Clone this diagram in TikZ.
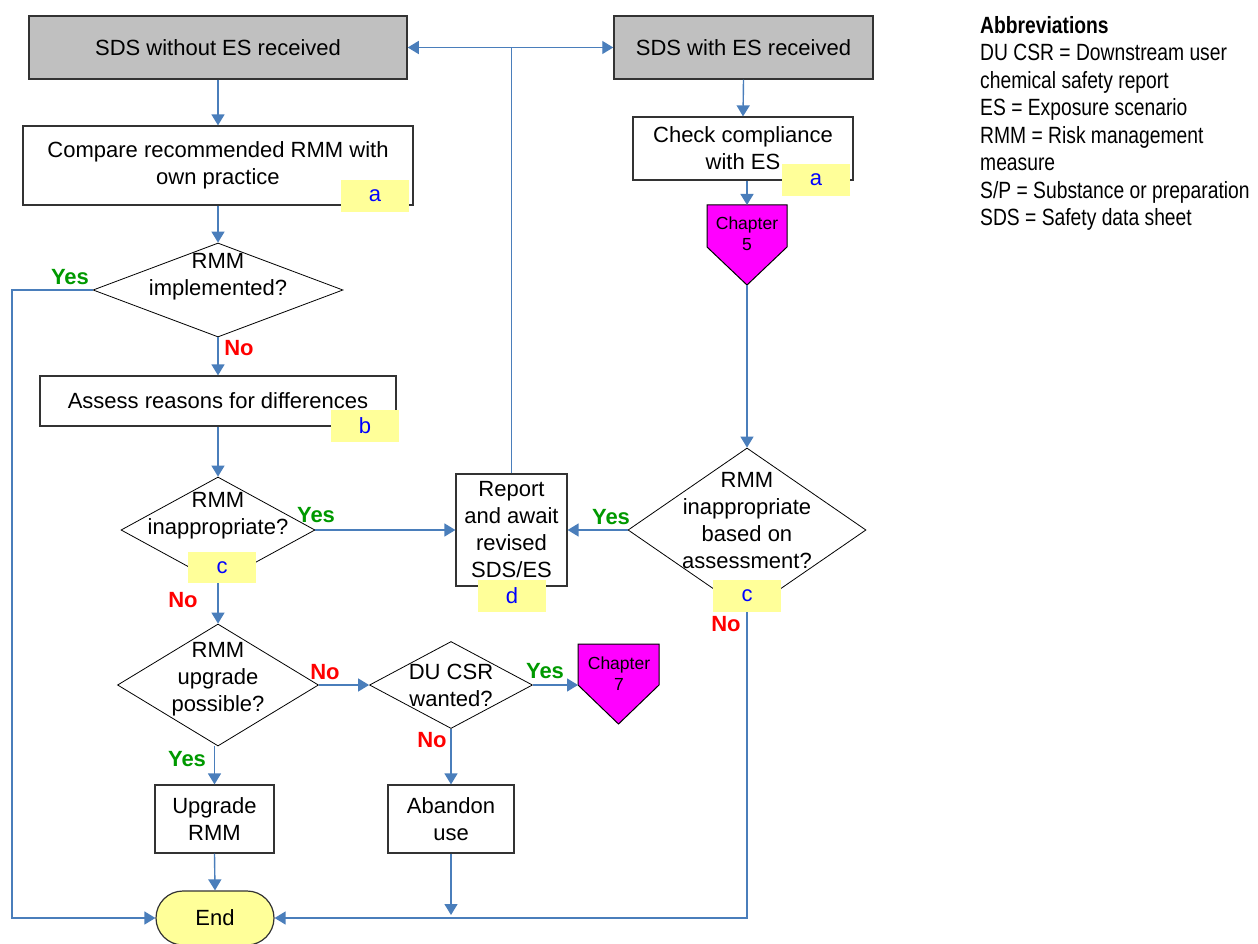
\documentclass[tikz,border=0pt]{standalone}
\usepackage{fontspec}
\setmainfont{Liberation Sans}
\newfontfamily\narrowfont[FakeStretch=0.82]{Liberation Sans}
\usetikzlibrary{arrows.meta,shapes.geometric}

\definecolor{flowblue}{RGB}{74,126,187}
\definecolor{boxgray}{RGB}{192,192,192}
\definecolor{notefill}{RGB}{255,255,153}
\definecolor{yesgreen}{RGB}{0,153,0}
\definecolor{chapmag}{RGB}{255,0,255}

\tikzset{
  txt/.style={font=\fontsize{22}{27}\selectfont, align=center},
  proc/.style={txt, rectangle, draw=black!80, line width=1.2pt, inner sep=0pt},
  start/.style={proc, fill=boxgray, line width=1.5pt},
  decision/.style={diamond, draw=black, line width=0.8pt, inner sep=0pt},
  note/.style={rectangle, fill=notefill, minimum width=68pt, minimum height=32pt,
    inner sep=0pt, font=\fontsize{22}{27}\selectfont, text=blue},
  yes/.style={font=\bfseries\fontsize{22}{27}\selectfont, text=yesgreen, inner sep=0pt},
  no/.style={font=\bfseries\fontsize{22}{27}\selectfont, text=red, inner sep=0pt},
  flow/.style={draw=flowblue, line width=1.4pt},
  arrow/.style={flow, -{Triangle[length=11pt,width=13pt]}},
  chapter/.style={fill=chapmag, draw=black, line width=1pt},
  chaptxt/.style={font=\fontsize{17.5}{21}\selectfont, align=center, inner sep=0pt},
}

\begin{document}
\begin{tikzpicture}[x=1pt,y=-1pt]
\useasboundingbox (0,0) rectangle (1258,944);

% start boxes
\node[start, minimum width=378, minimum height=63] (sdsno) at (218,47.5) {SDS without ES received};
\node[start, minimum width=259, minimum height=63] (sdsyes) at (743.5,47.5) {SDS with ES received};

% left column
\node[proc, minimum width=390, minimum height=79] (compare) at (218,165.5) {Compare recommended RMM with\\own practice};
\node[decision, minimum width=250, minimum height=94,
  label={[txt, yshift=13pt]center:{RMM\\implemented?}}] (implq) at (218,290) {};
\node[proc, minimum width=356, minimum height=50] (assess) at (218,401) {Assess reasons for differences};
\node[decision, minimum width=194, minimum height=106,
  label={[txt, yshift=14pt]center:{RMM\\inappropriate?}}] (inapq) at (218,530) {};
\node[decision, minimum width=201, minimum height=122,
  label={[txt, yshift=6pt]center:{RMM\\upgrade\\possible?}}] (upgq) at (218,685) {};
\node[proc, minimum width=119, minimum height=68] (upgrade) at (214.5,819) {Upgrade\\RMM};
\node[txt, rectangle, draw=black!80, line width=1.2pt, fill=notefill, rounded corners=27pt,
  minimum width=118, minimum height=54, inner sep=0pt] (endnode) at (215,918) {End};

% middle
\node[proc, minimum width=111, minimum height=112] (report) at (511.5,530) {Report\\and await\\revised\\SDS/ES};
\node[decision, minimum width=163, minimum height=87,
  label={[txt]center:{DU CSR\\wanted?}}] (csrq) at (451,685) {};
\node[proc, minimum width=126, minimum height=68] (abandon) at (451,819) {Abandon\\use};

% right column
\node[proc, minimum width=220, minimum height=63] (check) at (743,148.5) {Check compliance\\with ES};
\node[decision, minimum width=238, minimum height=164,
  label={[txt, yshift=9pt]center:{RMM\\inappropriate\\based on\\assessment?}}] (basedq) at (747,530) {};

% chapter marks
\draw[chapter] (707,205) -- (787,205) -- (787,247) -- (747,285) -- (707,247) -- cycle;
\coordinate (ch5top) at (747,205);
\coordinate (ch5tip) at (747,285);
\node[chaptxt] (ch5) at (747,234) {Chapter\\5};
\draw[chapter] (578,644) -- (659,644) -- (659,685) -- (618.5,724) -- (578,685) -- cycle;
\coordinate (ch7in) at (578,685);
\node[chaptxt] (ch7) at (619,674) {Chapter\\7};

% connectors
\coordinate (split) at (report.north |- sdsno.east);
\draw[flow] (report.north) -- (split);
\draw[arrow] (split) -- (sdsno.east);
\draw[arrow] (split) -- (sdsyes.west);
\draw[arrow] (sdsno.south) -- (compare.north);
\draw[arrow] (compare.south) -- (implq.north);
\draw[arrow] (implq.south) -- (assess.north);
\draw[arrow] (assess.south) -- (inapq.north);
\draw[arrow] (inapq.east) -- (report.west);
\draw[arrow] (inapq.south) -- (upgq.north);
\draw[arrow] (upgq.east) -- (csrq.west);
\draw[arrow] (csrq.east) -- (ch7in);
\draw[arrow] (csrq.south) -- (abandon.north);
\draw[arrow] (upgrade.north |- upgq.south) -- (upgrade.north);
\draw[arrow] (upgrade.south) -- (endnode.north);
\coordinate (abandonend) at (451,915);
\draw[arrow] (abandon.south) -- (abandonend);
\coordinate (railtop) at (12,290);
\draw[arrow] (implq.west) -- (railtop) |- (endnode.west);
\draw[arrow] (sdsyes.south) -- (check.north);
\draw[arrow] (ch5top |- check.south) -- (ch5top);
\draw[arrow] (ch5tip) -- (basedq.north);
\draw[arrow] (basedq.west) -- (report.east);
\draw[arrow] (basedq.south) |- (endnode.east);

% yellow notes
\node[note] (notea1) at (375,196) {a};
\node[note] (noteb) at (365,426) {b};
\node[note, minimum height=31] (notec1) at (222,567.5) {c};
\node[note] (noted) at (512,596) {d};
\node[note] (notea2) at (816,180) {a};
\node[note] (notec2) at (747,596) {c};

% yes / no
\node[yes] (yes1) at (70,277) {Yes};
\node[no] (no1) at (239,348) {No};
\node[yes] (yes2) at (316,515) {Yes};
\node[no] (no2) at (183,600) {No};
\node[no] (no3) at (325,672) {No};
\node[yes] (yes3) at (187,759) {Yes};
\node[yes] (yes4) at (545,671) {Yes};
\node[no] (no4) at (432,740) {No};
\node[yes] (yes5) at (611,517) {Yes};
\node[no] (no5) at (726,624) {No};

% abbreviations
\node[anchor=north west, align=left, inner sep=0pt,
  font=\narrowfont\fontsize{23.5}{27.5}\selectfont] (abbrev) at (980,16)
  {\textbf{Abbreviations}\\
   DU CSR = Downstream user\\
   chemical safety report\\
   ES = Exposure scenario\\
   RMM = Risk management\\
   measure\\
   S/P = Substance or preparation\\
   SDS = Safety data sheet};
\end{tikzpicture}
\end{document}
